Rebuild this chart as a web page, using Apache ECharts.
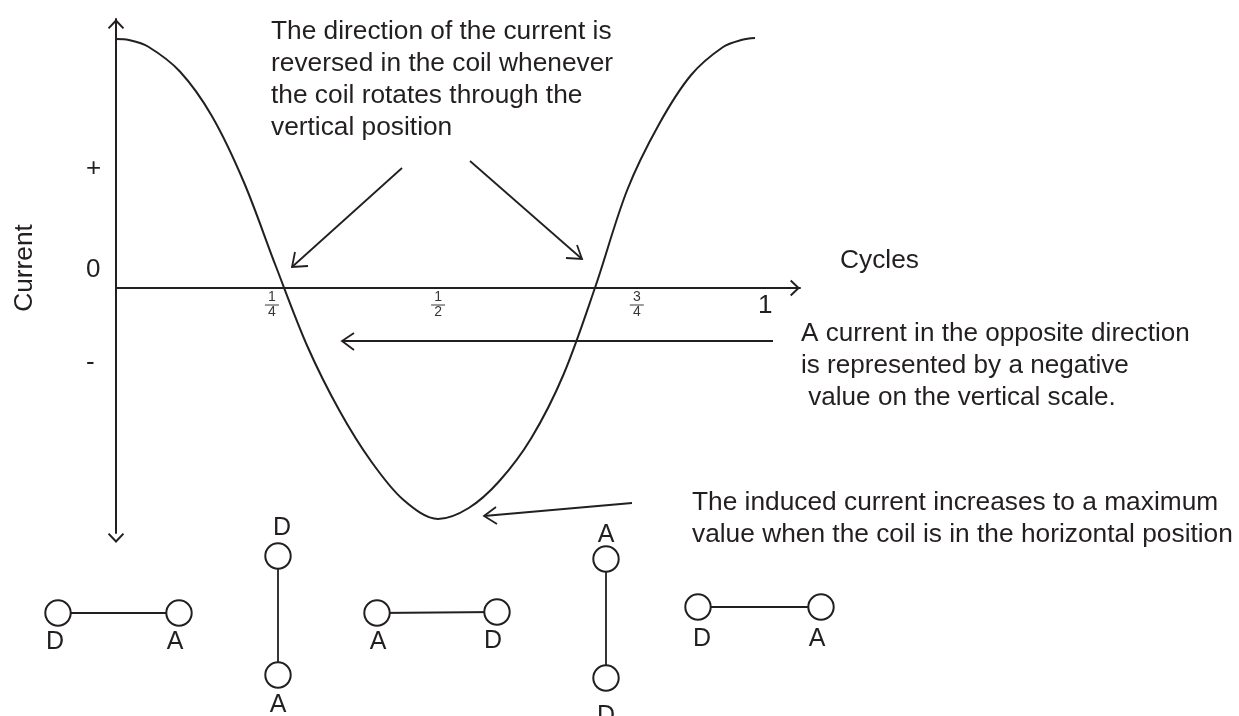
<!DOCTYPE html>
<html>
<head>
<meta charset="utf-8">
<style>html,body{margin:0;padding:0;background:#fff}#chart{width:1239px;height:716px}</style>
<script src="https://cdn.jsdelivr.net/npm/echarts@6/dist/echarts.min.js"></script>
</head>
<body>
<div id="chart"></div>
<script>
// curve: x in cycles, y in current (peak about 1)
var cycles = [0, .02, .05, .10, .15, .20, .25, .30, .35, .40, .45, .504, .552, .60, .65, .70, .75, .80, .85, .90, .95, .98, 1];
var current = [.996, .992, .966, .866, .688, .424, .088, -.236, -.492, -.696, -.848, -.924, -.880, -.772, -.600, -.348, .004, .392, .656, .852, .964, .993, 1];

// tick labels sit where the drawing has them, not on exact fractions
var xTickValues = [.244, .504, .815, 1.016];
var xTickLabels = ['{num|1}\n{bar|}\n{num|4}', '{num|1}\n{bar|}\n{num|2}', '{num|3}\n{bar|}\n{num|4}', '{one|1}'];
var yTickValues = [.476, .072, -.3];
var yTickLabels = ['+', '0', '-'];

var ink = '#231f20';
var font = '"Liberation Sans", Arial, sans-serif';
var chevron = 'path://M0 0L8.5 9L7 10.4L0 3L-7 10.4L-8.5 9Z';

function text(x, y, str, size) {
    return {
        type: 'text', x: x, y: y,
        style: {text: str, fill: ink, font: (size || 26.3) + 'px ' + font, lineHeight: 32, textVerticalAlign: 'top'}
    };
}
function centerText(x, y, str) {
    var t = text(x, y - 14, str, 25);
    t.style.textAlign = 'center';
    return t;
}
function line(points) {
    return {type: 'polyline', shape: {points: points}, style: {stroke: ink, lineWidth: 1.8, fill: null}};
}
function arrow(from, tip, arm1, arm2) {
    return [line([from, tip]), line([arm1, tip, arm2])];
}
function coil(x1, y1, x2, y2) {
    var style = {stroke: ink, lineWidth: 2, fill: '#fff'};
    return [
        line([[x1, y1], [x2, y2]]),
        {type: 'circle', shape: {cx: x1, cy: y1, r: 12.7}, style: style},
        {type: 'circle', shape: {cx: x2, cy: y2, r: 12.7}, style: style}
    ];
}

var notes = [].concat(
    text(271, 16, 'The direction of the current is\nreversed in the coil whenever\nthe coil rotates through the\nvertical position'),
    text(801, 318, 'A current in the opposite direction\nis represented by a negative\n value on the vertical scale.', 26.1),
    text(692, 487, 'The induced current increases to a maximum\nvalue when the coil is in the horizontal position'),
    text(840, 245, 'Cycles'),
    arrow([402, 168], [292, 267], [295, 252], [308, 266]),
    arrow([470, 161], [582, 259], [577, 245], [566, 258]),
    arrow([773, 341], [342, 341], [354, 333], [354, 350]),
    arrow([632, 503], [484, 516], [496, 507], [497, 524]),
    coil(58, 613, 179, 613),
    coil(278, 556, 278, 675),
    coil(377, 613, 497, 612),
    coil(606, 559, 606, 678),
    coil(698, 607, 821, 607),
    centerText(55, 640, 'D'), centerText(175, 640, 'A'),
    centerText(282, 526, 'D'), centerText(278, 703, 'A'),
    centerText(378, 640, 'A'), centerText(493, 639, 'D'),
    centerText(606, 533, 'A'), centerText(606, 714, 'D'),
    centerText(702, 637, 'D'), centerText(817, 637, 'A')
);

var myChart = echarts.init(document.getElementById('chart'), null, {renderer: 'canvas'});
var option = {
    animation: false,
    backgroundColor: '#fff',
    textStyle: {fontFamily: font, color: ink},
    grid: {left: 116, top: 19, width: 684, height: 514, outerBoundsMode: 'none'},
    xAxis: {
        type: 'value',
        position: 'bottom',
        offset: -245,
        min: 0,
        max: 1.0704,
        splitLine: {show: false},
        axisTick: {show: false},
        axisLine: {
            onZero: false,
            symbol: ['none', chevron],
            symbolSize: [17, 10],
            symbolOffset: [0, -5],
            lineStyle: {color: ink, width: 2}
        },
        axisLabel: {
            customValues: xTickValues,
            margin: 3,
            color: '#3a3637',
            formatter: function (v) { return xTickLabels[xTickValues.indexOf(v)]; },
            rich: {
                num: {fontFamily: font, fontSize: 14, lineHeight: 13, color: '#3a3637', align: 'center'},
                bar: {width: 14, height: 1, lineHeight: 2, backgroundColor: '#3a3637', align: 'center'},
                one: {fontFamily: font, fontSize: 26, lineHeight: 30, color: ink}
            }
        }
    },
    yAxis: {
        type: 'value',
        min: -.98,
        max: 1.076,
        splitLine: {show: false},
        axisTick: {show: false},
        axisLine: {
            onZero: false,
            symbol: [chevron, chevron],
            symbolSize: [17, 10],
            symbolOffset: [-5, -5],
            lineStyle: {color: ink, width: 2}
        },
        axisLabel: {
            customValues: yTickValues,
            margin: 30,
            align: 'left',
            fontFamily: font,
            fontSize: 26,
            color: ink,
            formatter: function (v) { return yTickLabels[yTickValues.indexOf(v)]; }
        },
        name: 'Current',
        nameLocation: 'middle',
        nameRotate: 90,
        nameGap: 78,
        nameTextStyle: {fontFamily: font, fontSize: 26.3, color: ink, padding: [0, 0, 0, 16]}
    },
    series: [
        {
            type: 'line',
            data: cycles.map(function (c, i) { return [c, current[i]]; }),
            smooth: .33,
            smoothMonotone: 'none',
            showSymbol: false,
            clip: false,
            lineStyle: {color: ink, width: 2}
        }
    ],
    graphic: notes
};
myChart.setOption(option);
</script>
</body>
</html>
